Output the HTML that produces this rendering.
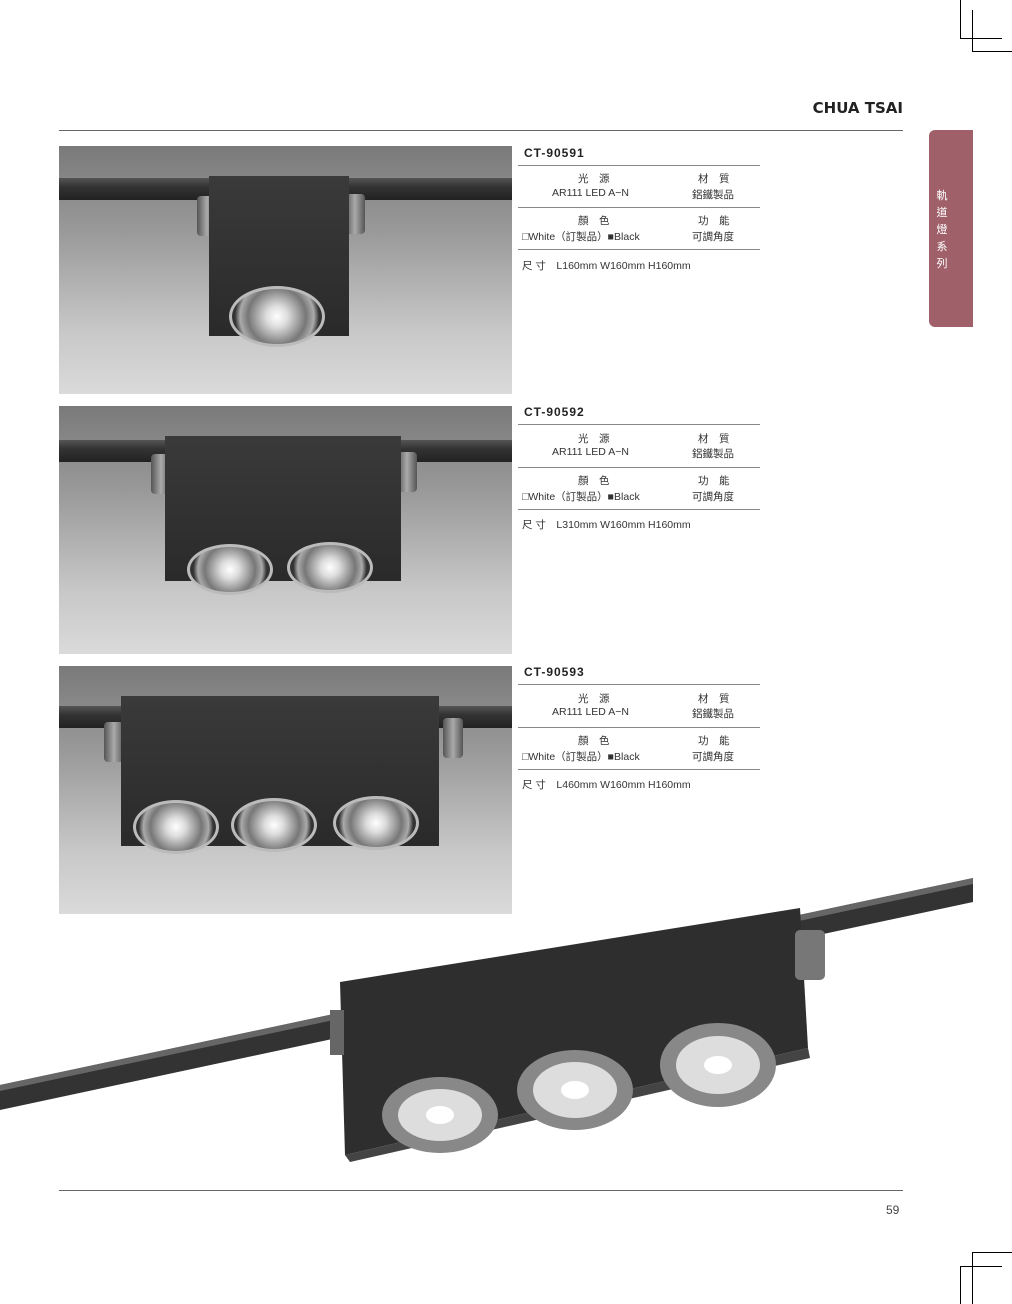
<!DOCTYPE html>
<html><head><meta charset="utf-8"><style>
body{margin:0;width:1012px;height:1304px;background:#fff;position:relative;overflow:hidden;font-family:"Liberation Sans","Noto Sans CJK TC",sans-serif;color:#333}
.a{position:absolute}
.photo{position:absolute;left:59px;width:453px;height:248px;background:linear-gradient(#7a7a7a 0%,#9a9a9a 35%,#c8c8c8 75%,#dadada 100%);overflow:hidden}
.rail{position:absolute;left:0;width:453px;height:22px;background:linear-gradient(#555,#333 40%,#222);}
.box{position:absolute;background:linear-gradient(#3a3a3a,#2a2a2a);}
.lamp{position:absolute;border-radius:50%;background:radial-gradient(circle,#fff 0%,#ddd 20%,#777 55%,#aaa 70%,#333 80%);border:3px solid #bbb}
.clip{position:absolute;width:20px;height:40px;background:linear-gradient(90deg,#555,#aaa,#555);border-radius:4px}
.ttl{position:absolute;left:524px;font-weight:bold;font-size:12px;letter-spacing:1px;color:#222}
.ln{position:absolute;left:518px;width:242px;height:1px;background:#888}
.t{position:absolute;font-size:10.5px;color:#333;white-space:nowrap}
</style></head><body>
<div class="a" style="left:960px;top:0;width:1px;height:38px;background:#000"></div>
<div class="a" style="left:960px;top:38px;width:42px;height:1px;background:#000"></div>
<div class="a" style="left:972px;top:10px;width:1px;height:42px;background:#000"></div>
<div class="a" style="left:972px;top:51px;width:40px;height:1px;background:#000"></div>
<div class="a" style="left:960px;top:1266px;width:42px;height:1px;background:#000"></div>
<div class="a" style="left:960px;top:1266px;width:1px;height:38px;background:#000"></div>
<div class="a" style="left:972px;top:1252px;width:40px;height:1px;background:#000"></div>
<div class="a" style="left:972px;top:1252px;width:1px;height:52px;background:#000"></div>

<div class="a" style="right:109px;top:99px;font-weight:900;font-size:15px;font-family:'DejaVu Sans',sans-serif;color:#222">CHUA TSAI</div>
<div class="a" style="left:59px;top:130px;width:844px;height:1px;background:#666"></div>
<div class="a" style="left:929px;top:130px;width:44px;height:197px;background:#a0606a;border-radius:6px 0 0 6px"></div>
<div class="a" style="left:935px;top:188px;width:14px;color:#fff;font-size:11px;line-height:17px;text-align:center">軌<br>道<br>燈<br>系<br>列</div>

<div class="photo" style="top:146px">
<div class="rail" style="top:32px"></div>
<div class="clip" style="left:138px;top:50px"></div><div class="clip" style="left:286px;top:48px"></div>
<div class="box" style="left:150px;top:30px;width:140px;height:160px"></div>
<div class="lamp" style="left:170px;top:140px;width:90px;height:55px"></div>
</div>
<div class="photo" style="top:406px">
<div class="rail" style="top:34px"></div>
<div class="clip" style="left:92px;top:48px"></div><div class="clip" style="left:338px;top:46px"></div>
<div class="box" style="left:106px;top:30px;width:236px;height:145px"></div>
<div class="lamp" style="left:128px;top:138px;width:80px;height:45px"></div>
<div class="lamp" style="left:228px;top:136px;width:80px;height:45px"></div>
</div>
<div class="photo" style="top:666px">
<div class="rail" style="top:40px"></div>
<div class="clip" style="left:45px;top:56px"></div><div class="clip" style="left:384px;top:52px"></div>
<div class="box" style="left:62px;top:30px;width:318px;height:150px"></div>
<div class="lamp" style="left:74px;top:134px;width:80px;height:48px"></div>
<div class="lamp" style="left:172px;top:132px;width:80px;height:48px"></div>
<div class="lamp" style="left:274px;top:130px;width:80px;height:48px"></div>
</div>

<svg class="a" style="left:0;top:870px" width="1012" height="300">
<polygon points="0,215 973,8 973,32 0,240" fill="#333"/>
<polygon points="0,215 973,8 973,14 0,221" fill="#666"/>
<polygon points="340,112 800,38 808,178 345,285" fill="#2e2e2e"/>
<polygon points="345,285 808,178 810,188 350,292" fill="#444"/>
<rect x="795" y="60" width="30" height="50" rx="5" fill="#777"/>
<rect x="330" y="140" width="14" height="45" fill="#666"/>
<ellipse cx="440" cy="245" rx="58" ry="38" fill="#888"/><ellipse cx="440" cy="245" rx="42" ry="26" fill="#ddd"/><ellipse cx="440" cy="245" rx="14" ry="9" fill="#fff"/>
<ellipse cx="575" cy="220" rx="58" ry="40" fill="#888"/><ellipse cx="575" cy="220" rx="42" ry="28" fill="#ddd"/><ellipse cx="575" cy="220" rx="14" ry="9" fill="#fff"/>
<ellipse cx="718" cy="195" rx="58" ry="42" fill="#888"/><ellipse cx="718" cy="195" rx="42" ry="29" fill="#ddd"/><ellipse cx="718" cy="195" rx="14" ry="9" fill="#fff"/>
</svg>

<div class="ttl" style="top:146px">CT-90591</div>
<div class="ln" style="top:165px"></div>
<div class="t" style="left:578px;top:171px">光　源</div><div class="t" style="left:698px;top:171px">材　質</div>
<div class="t" style="left:552px;top:187px">AR111 LED A−N</div><div class="t" style="left:692px;top:187px">鋁鐵製品</div>
<div class="ln" style="top:207px"></div>
<div class="t" style="left:578px;top:213px">顏　色</div><div class="t" style="left:698px;top:213px">功　能</div>
<div class="t" style="left:522px;top:229px">□White（訂製品）■Black</div><div class="t" style="left:692px;top:229px">可調角度</div>
<div class="ln" style="top:249px"></div>
<div class="t" style="left:522px;top:258px">尺 寸　L160mm W160mm H160mm</div>

<div class="ttl" style="top:405px">CT-90592</div>
<div class="ln" style="top:424px"></div>
<div class="t" style="left:578px;top:431px">光　源</div><div class="t" style="left:698px;top:431px">材　質</div>
<div class="t" style="left:552px;top:446px">AR111 LED A−N</div><div class="t" style="left:692px;top:446px">鋁鐵製品</div>
<div class="ln" style="top:467px"></div>
<div class="t" style="left:578px;top:473px">顏　色</div><div class="t" style="left:698px;top:473px">功　能</div>
<div class="t" style="left:522px;top:489px">□White（訂製品）■Black</div><div class="t" style="left:692px;top:489px">可調角度</div>
<div class="ln" style="top:509px"></div>
<div class="t" style="left:522px;top:517px">尺 寸　L310mm W160mm H160mm</div>

<div class="ttl" style="top:665px">CT-90593</div>
<div class="ln" style="top:684px"></div>
<div class="t" style="left:578px;top:691px">光　源</div><div class="t" style="left:698px;top:691px">材　質</div>
<div class="t" style="left:552px;top:706px">AR111 LED A−N</div><div class="t" style="left:692px;top:706px">鋁鐵製品</div>
<div class="ln" style="top:727px"></div>
<div class="t" style="left:578px;top:733px">顏　色</div><div class="t" style="left:698px;top:733px">功　能</div>
<div class="t" style="left:522px;top:749px">□White（訂製品）■Black</div><div class="t" style="left:692px;top:749px">可調角度</div>
<div class="ln" style="top:769px"></div>
<div class="t" style="left:522px;top:777px">尺 寸　L460mm W160mm H160mm</div>

<div class="a" style="left:59px;top:1190px;width:844px;height:1px;background:#666"></div>
<div class="a" style="left:886px;top:1203px;font-size:12px;color:#444">59</div>
</body></html>
